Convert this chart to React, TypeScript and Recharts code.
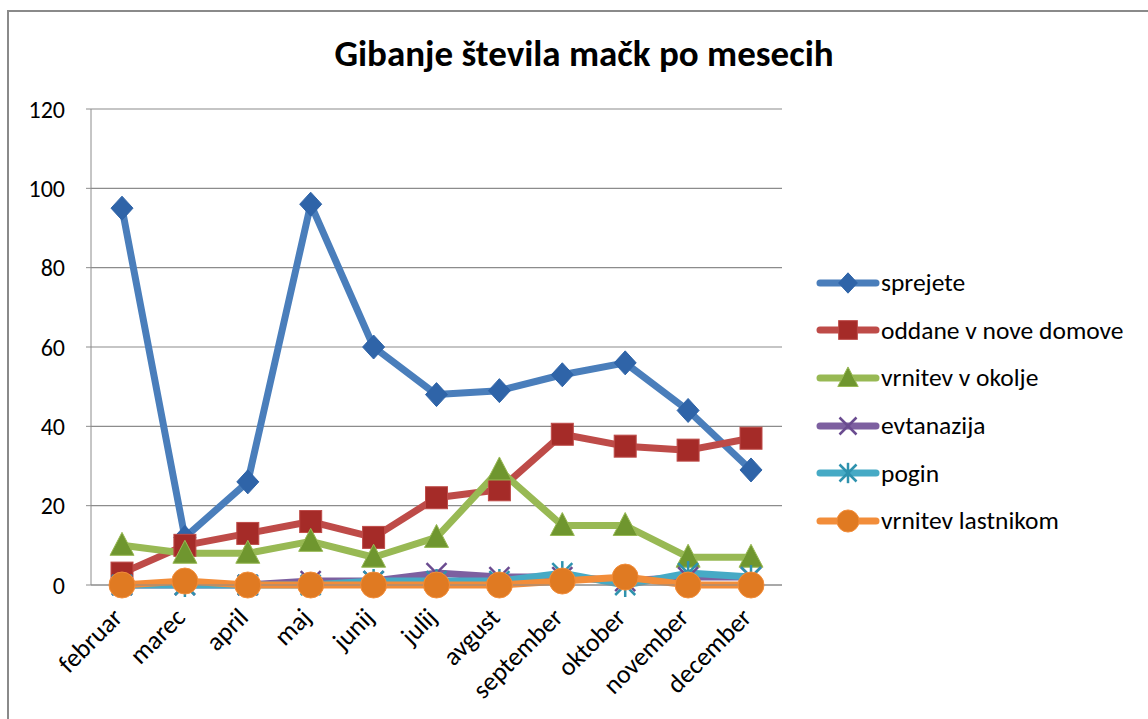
import React from 'react';
import { LineChart, Line, XAxis, YAxis, CartesianGrid } from 'recharts';

const months = ['februar', 'marec', 'april', 'maj', 'junij', 'julij', 'avgust', 'september', 'oktober', 'november', 'december'];

const sprejete = [95, 12, 26, 96, 60, 48, 49, 53, 56, 44, 29];
const oddane = [3, 10, 13, 16, 12, 22, 24, 38, 35, 34, 37];
const vrnitevOkolje = [10, 8, 8, 11, 7, 12, 29, 15, 15, 7, 7];
const evtanazija = [0, 0, 0, 1, 1, 3, 2, 2, 1, 2, 2];
const pogin = [0, 0, 0, 0, 1, 1, 1, 3, 0, 3, 2];
const vrnitevLastnikom = [0, 1, 0, 0, 0, 0, 0, 1, 2, 0, 0];

const yTicks = [0, 20, 40, 60, 80, 100, 120];

const data = months.map((m, i) => ({
  month: m,
  sprejete: sprejete[i],
  oddane: oddane[i],
  okolje: vrnitevOkolje[i],
  evtanazija: evtanazija[i],
  pogin: pogin[i],
  lastnikom: vrnitevLastnikom[i],
}));

const FONT = 'Carlito, Calibri, Lato, sans-serif';

type MarkerKind = 'diamond' | 'square' | 'triangle' | 'x' | 'star' | 'circle';

const series: { key: string; name: string; color: string; marker: MarkerKind }[] = [
  { key: 'sprejete', name: 'sprejete', color: '#4A7EBB', marker: 'diamond' },
  { key: 'oddane', name: 'oddane v nove domove', color: '#BE4B48', marker: 'square' },
  { key: 'okolje', name: 'vrnitev v okolje', color: '#98B954', marker: 'triangle' },
  { key: 'evtanazija', name: 'evtanazija', color: '#7D60A0', marker: 'x' },
  { key: 'pogin', name: 'pogin', color: '#46AAC5', marker: 'star' },
  { key: 'lastnikom', name: 'vrnitev lastnikom', color: '#F28D3A', marker: 'circle' },
];

const darker: Record<string, string> = {
  '#4A7EBB': '#2F64A8',
  '#BE4B48': '#A52B28',
  '#98B954': '#6F962F',
  '#7D60A0': '#6A4B90',
  '#46AAC5': '#2E92AE',
  '#F28D3A': '#E07A22',
};

const markerShape = (kind: MarkerKind, cx: number, cy: number, color: string, scale = 1) => {
  const fill = darker[color] || color;
  const s = scale;
  switch (kind) {
    case 'diamond':
      return <polygon points={`${cx},${cy - 12 * s} ${cx + 11 * s},${cy} ${cx},${cy + 12 * s} ${cx - 11 * s},${cy}`} fill={fill} stroke={fill} />;
    case 'square':
      return <rect x={cx - 11 * s} y={cy - 11 * s} width={22 * s} height={22 * s} fill={fill} stroke={color} strokeWidth={1} />;
    case 'triangle':
      return <polygon points={`${cx},${cy - 13 * s} ${cx + 12 * s},${cy + 10 * s} ${cx - 12 * s},${cy + 10 * s}`} fill={fill} stroke={color} strokeWidth={1} />;
    case 'x':
      return (
        <g stroke={fill} strokeWidth={2.5}>
          <line x1={cx - 10 * s} y1={cy - 10 * s} x2={cx + 10 * s} y2={cy + 10 * s} />
          <line x1={cx - 10 * s} y1={cy + 10 * s} x2={cx + 10 * s} y2={cy - 10 * s} />
        </g>
      );
    case 'star':
      return (
        <g stroke={fill} strokeWidth={2.5}>
          <line x1={cx - 10 * s} y1={cy - 10 * s} x2={cx + 10 * s} y2={cy + 10 * s} />
          <line x1={cx - 10 * s} y1={cy + 10 * s} x2={cx + 10 * s} y2={cy - 10 * s} />
          <line x1={cx} y1={cy - 12 * s} x2={cx} y2={cy + 12 * s} />
        </g>
      );
    case 'circle':
    default:
      return <circle cx={cx} cy={cy} r={13 * s} fill={fill} stroke={color} strokeWidth={1} />;
  }
};

const makeDot = (kind: MarkerKind, color: string) => (props: any) => {
  const { cx, cy, index } = props;
  if (cx == null || cy == null) return <g key={`d-${index}`} />;
  return <g key={`d-${kind}-${index}`}>{markerShape(kind, cx, cy, color)}</g>;
};

const MonthTick = (props: any) => {
  const { x, y, payload } = props;
  return (
    <g transform={`translate(${x + 2},${y + 27})`}>
      <text transform="rotate(-45)" textAnchor="end" fontSize={26} fontFamily={FONT} fill="#000">
        {payload.value}
      </text>
    </g>
  );
};

const LegendBox = () => (
  <div style={{ position: 'absolute', left: 815, top: 259, width: 333, fontFamily: FONT, fontSize: 25.5, color: '#000' }}>
    {series.map((s) => (
      <div key={s.key} style={{ display: 'flex', alignItems: 'center', height: 47.6 }}>
        <svg width={66} height={26} style={{ marginRight: 0 }}>
          <line x1={5} y1={13} x2={61} y2={13} stroke={s.color} strokeWidth={7} strokeLinecap="round" />
          {markerShape(s.marker, 33, 13, s.color, 0.85)}
        </svg>
        <span>{s.name}</span>
      </div>
    ))}
  </div>
);

export default function App() {
  return (
    <div style={{ position: 'fixed', left: 0, top: 0, width: 1148, height: 719, background: '#fff', overflow: 'hidden' }}>
      <div
        style={{
          position: 'absolute',
          left: 7,
          top: 10,
          width: 1180,
          height: 740,
          border: '2px solid #8a8a8a',
          boxSizing: 'border-box',
        }}
      />
      <div
        style={{
          position: 'absolute',
          left: 0,
          top: 31,
          width: 1168,
          textAlign: 'center',
          fontFamily: FONT,
          fontWeight: 'bold',
          fontSize: 37,
          color: '#000',
        }}
      >
        Gibanje števila mačk po mesecih
      </div>
      <div style={{ position: 'absolute', left: 0, top: 0 }}>
        <LineChart width={1148} height={719} data={data} margin={{ top: 109, right: 366, bottom: 0, left: 0 }}>
          <CartesianGrid vertical={false} stroke="#8c8c8c" strokeWidth={1.2} />
          <XAxis
            dataKey="month"
            height={134}
            stroke="#8c8c8c"
            tickLine={{ stroke: '#8c8c8c' }}
            tickSize={5}
            interval={0}
            padding={{ left: 31, right: 31 }}
            tick={<MonthTick />}
          />
          <YAxis
            width={91}
            domain={[0, 120]}
            ticks={yTicks}
            stroke="#8c8c8c"
            tickSize={5}
            tickMargin={21}
            tick={{ fontSize: 24, fontFamily: FONT, fill: '#000' }}
          />
          {series.map((s) => (
            <Line
              key={s.key}
              type="linear"
              dataKey={s.key}
              name={s.name}
              stroke={s.color}
              strokeWidth={7}
              strokeLinejoin="round"
              dot={makeDot(s.marker, s.color)}
              activeDot={false}
              isAnimationActive={false}
            />
          ))}
        </LineChart>
      </div>
      <LegendBox />
    </div>
  );
}
